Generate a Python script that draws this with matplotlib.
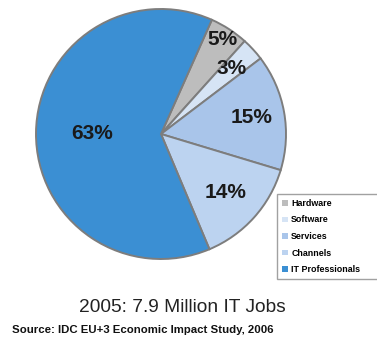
import numpy as np
import matplotlib
matplotlib.use('Agg')
import matplotlib.pyplot as plt

plt.rcParams['font.family'] = ['Liberation Sans', 'DejaVu Sans']

# job shares by segment, 2005
segments = ['Hardware', 'Software', 'Services', 'Channels', 'IT Professionals']
shares = [5, 3, 15, 14, 63]
colors = ['#bdbdbd', '#d6e4f5', '#a9c5ea', '#bcd3f0', '#3b8fd3']
# how far out each percentage sits (fraction of radius)
label_r = [0.90, 0.77, 0.74, 0.70, 0.55]

fig = plt.figure(figsize=(3.77, 3.42), dpi=100)
ax = fig.add_axes([36 / 377, 83 / 342, 250 / 377, 250 / 342])

wedges, texts = ax.pie(shares, colors=colors, startangle=66, counterclock=False,
                       wedgeprops=dict(edgecolor='#7d7d7d', linewidth=1.4))

# percentage labels at the middle angle of each wedge
for w, s, r in zip(wedges, shares, label_r):
    mid = np.deg2rad((w.theta1 + w.theta2) / 2)
    ax.text(r * np.cos(mid), r * np.sin(mid), '%d%%' % s, ha='center', va='center',
            fontsize=15, fontweight='bold', color='#1a1a1a')

ax.set_xlim(-1, 1)
ax.set_ylim(-1, 1)
ax.set_aspect('equal')
ax.axis('off')

# legend box runs off the right edge
leg = fig.legend(wedges, segments, loc='upper left',
                 bbox_to_anchor=(277 / 377, 1 - 197 / 342, 110 / 377, 0.01), mode='expand',
                 prop=dict(weight='bold', size=6.4), frameon=True, fancybox=False,
                 handlelength=0.6, handleheight=0.6, handletextpad=0.4, labelspacing=0.85,
                 borderpad=0.6, borderaxespad=0)
leg.get_frame().set_edgecolor('#8a8a8a')
leg.get_frame().set_linewidth(1.0)
for h in leg.legend_handles:
    h.set_linewidth(0)

fig.text(182 / 377, 1 - 308 / 342, '2005: 7.9 Million IT Jobs', ha='center', va='center',
         fontsize=13.8, color='#222222')
fig.text(12 / 377, 1 - 330 / 342, 'Source: IDC EU+3 Economic Impact Study, 2006', ha='left',
         va='center', fontsize=8.2, fontweight='bold', color='#111111')

fig.savefig('out.png', dpi=100)
